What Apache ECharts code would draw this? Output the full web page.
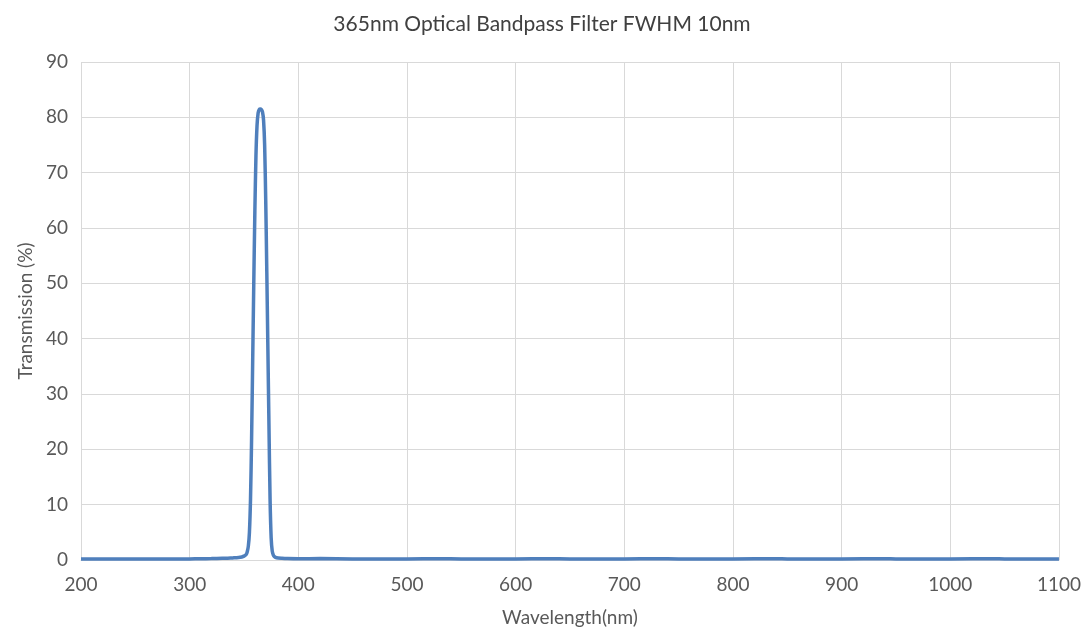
<!DOCTYPE html>
<html>
<head>
<meta charset="utf-8">
<script src="https://cdn.jsdelivr.net/npm/echarts@6/dist/echarts.min.js"></script>
<style>html,body{margin:0;padding:0;background:#fff;}#c{width:1084px;height:637px;}</style>
</head>
<body>
<div id="c"></div>
<script>
const wavelengths = [200,220,240,260,280,300,310,320,330,335,340,345,348,350,352,353,354,355,356,357,358,359,360,361,362,363,364,365,366,367,368,369,370,371,372,373,374,375,376,377,378,380,385,390,400,420,450,500,530,550,600,630,650,700,730,750,800,840,850,900,940,950,1000,1040,1050,1100];
const transmission = [0.2,0.2,0.2,0.2,0.2,0.2,0.22,0.25,0.3,0.33,0.38,0.45,0.55,0.7,1.0,1.5,2.5,5,11,22,36,50,63,73,78.5,80.8,81.4,81.5,81.4,81,79.5,75,65,52,38,24,11,4,1.6,0.9,0.6,0.4,0.3,0.25,0.22,0.25,0.2,0.2,0.22,0.2,0.2,0.22,0.2,0.2,0.22,0.2,0.2,0.22,0.2,0.2,0.22,0.2,0.2,0.22,0.2,0.2];
const xTicks = {min:200, max:1100, step:100};
const yTicks = {min:0, max:90, step:10};

const chart = echarts.init(document.getElementById('c'), null, {renderer:'canvas'});
const font = 'Lato, "Open Sans", sans-serif';
chart.setOption({
  animation:false,
  title:{text:'365nm Optical Bandpass Filter FWHM 10nm', left:'center', top:9,
    textStyle:{fontFamily:font, fontSize:21, fontWeight:'normal', color:'#404040'}},
  grid:{left:81, right:23, top:62, bottom:77},
  xAxis:{type:'value', min:xTicks.min, max:xTicks.max, interval:xTicks.step,
    name:'Wavelength(nm)', nameLocation:'middle', nameGap:48,
    nameTextStyle:{fontFamily:font, fontSize:19, color:'#595959'},
    axisLine:{show:true, lineStyle:{color:'#d9d9d9', width:1}},
    axisTick:{show:false},
    axisLabel:{fontFamily:font, fontSize:19, color:'#595959', margin:15, formatter:v=>String(v)},
    splitLine:{show:true, lineStyle:{color:'#d9d9d9', width:1}}},
  yAxis:{type:'value', min:yTicks.min, max:yTicks.max, interval:yTicks.step,
    name:'Transmission (%)', nameLocation:'middle', nameGap:36, nameRotate:90,
    nameTextStyle:{fontFamily:font, fontSize:19, color:'#595959'},
    axisLine:{show:false}, axisTick:{show:false},
    axisLabel:{fontFamily:font, fontSize:19, color:'#595959', margin:13},
    splitLine:{show:true, lineStyle:{color:'#d9d9d9', width:1}}},
  series:[{type:'line', data:wavelengths.map((w,i)=>[w, transmission[i]]),
    showSymbol:false, smooth:0.25, clip:true,
    lineStyle:{color:'#4f7fbc', width:3.5}}]
});
</script>
</body>
</html>
